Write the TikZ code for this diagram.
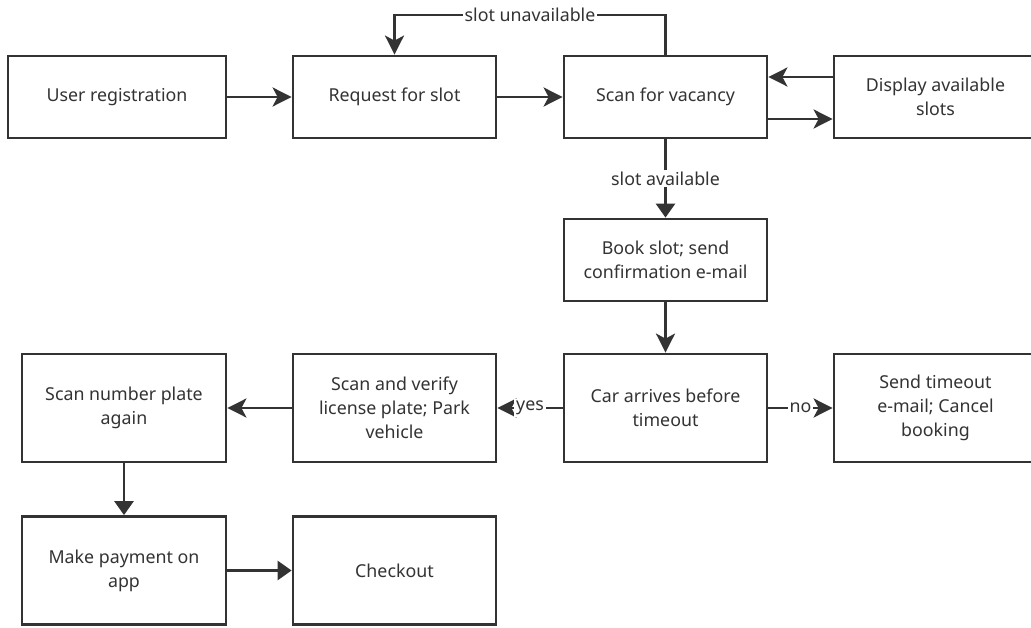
\documentclass[tikz,border=0pt]{standalone}
\usepackage{fontspec}
\setmainfont{Noto Sans}
\usetikzlibrary{arrows.meta}
\definecolor{ink}{HTML}{333333}
\begin{document}
\begin{tikzpicture}[x=1pt,y=-1pt,
  box/.style={draw=ink, line width=2.8pt, fill=white, align=center,
    font=\fontsize{17.8}{24}\selectfont, text=ink, inner sep=0pt,
    minimum width=203pt, minimum height=82pt},
  tall/.style={minimum height=108pt},
  arr/.style={draw=ink, line width=2.8pt, -{Stealth[length=19pt,width=19pt,inset=5pt]}},
  tarr/.style={draw=ink, line width=2.8pt, -{Triangle[length=14pt,width=19pt]}},
  lbl/.style={fill=white, text=ink, font=\fontsize{17.8}{24}\selectfont, inner sep=2pt}]
\useasboundingbox (0,0) rectangle (1031,628);
\clip (0,0) rectangle (1031,628);
% row 1
\node[box, minimum width=218pt] (user) at (117,97) {User registration};
\node[box] (req) at (394.5,97) {Request for slot};
\node[box] (scan) at (665.5,97) {Scan for vacancy};
\node[box] (disp) at (935.5,97) {Display available\\slots};
% row 2
\node[box] (book) at (665.5,260) {Book slot; send\\confirmation e-mail};
% row 3
\node[box, tall, minimum width=204pt] (plate) at (124,408) {Scan number plate\\again};
\node[box, tall] (verify) at (394.5,408) {Scan and verify\\license plate; Park\\vehicle};
\node[box, tall] (car) at (665.5,408) {Car arrives before\\timeout};
\node[box, tall] (timeout) at (935.5,408) {Send timeout\\e-mail; Cancel\\booking};
% row 4
\node[box, tall, minimum width=204pt] (pay) at (124,570.5) {Make payment on\\app};
\node[box, tall] (check) at (394.5,570.5) {Checkout};
% helper coordinates
\coordinate (ytop) at (0,15);
\coordinate (y77) at (0,77);
\coordinate (y119) at (0,119);
% connectors
\draw[arr] (user) -- (req);
\draw[arr] (req) -- (scan);
\draw[arr] (scan.north) -- (scan.north |- ytop)
  -- node[lbl]{slot unavailable} (req.north |- ytop) -- (req.north);
\draw[arr] (disp.west |- y77) -- (scan.east |- y77);
\draw[arr] (scan.east |- y119) -- (disp.west |- y119);
\draw[tarr] (scan.south) -- node[lbl]{slot available} (book.north);
\draw[arr] (book.south) -- (car.north);
\draw[arr] (car.west) -- node[lbl]{yes} (verify.east);
\draw[arr] (car.east) -- node[lbl]{no} (timeout.west);
\draw[arr] (verify.west) -- (plate.east);
\draw[tarr] (plate.south) -- (pay.north);
\draw[tarr] (pay.east) -- (check.west);
\end{tikzpicture}
\end{document}
